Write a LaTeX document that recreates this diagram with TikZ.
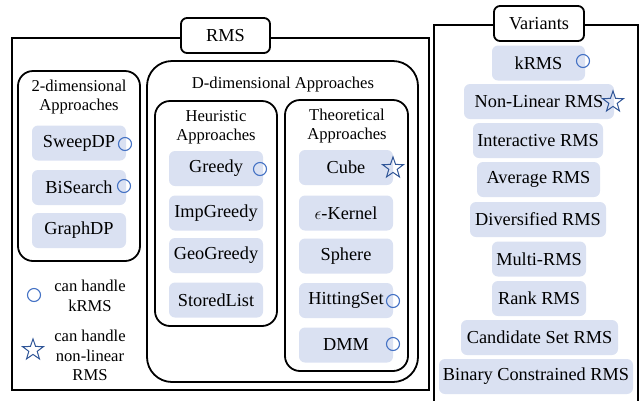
\documentclass[tikz,border=0pt]{standalone}
\usepackage{fontspec}
\setmainfont{Liberation Serif}
\usetikzlibrary{shapes.geometric}
\definecolor{itemfill}{HTML}{DAE1F2}
\definecolor{circblue}{HTML}{4472C4}
\definecolor{starblue}{HTML}{2F5597}
\tikzset{
  item/.style={fill=itemfill, rounded corners=6pt, minimum height=35pt, inner sep=0pt, font=\fontsize{18.3}{20}\selectfont},
  outerbox/.style={draw=black, line width=1.8pt, inner sep=0pt},
  groupbox/.style={draw=black, line width=1.8pt, inner sep=0pt, rounded corners=15pt},
  labelbox/.style={draw=black, fill=white, line width=1.8pt, rounded corners=6pt, inner sep=0pt, minimum height=35pt, font=\fontsize{18.3}{20}\selectfont},
  title/.style={align=center, inner sep=0pt, font=\fontsize{16.6}{19.5}\selectfont},
  kmark/.style={circle, draw=circblue, line width=1.1pt, minimum size=13pt, inner sep=0pt},
  nlmark/.style={star, star points=5, star point ratio=2.5, draw=starblue, line width=1pt, minimum size=22pt, inner sep=0pt},
}
\begin{document}
\begin{tikzpicture}[x=1pt, y=-1pt]
\useasboundingbox (0,0) rectangle (643,400);
% containers
\node[outerbox, minimum width=417pt, minimum height=352pt] (rmsbox) at (220.5,214) {};
\node[outerbox, minimum width=204pt, minimum height=377pt] (varbox) at (536,213.5) {};
\node[labelbox, minimum width=89pt] (rmslabel) at (225.5,35.5) {RMS};
\node[labelbox, minimum width=90pt] (varlabel) at (539,23.5) {Variants};
\node[groupbox, minimum width=122pt, minimum height=190pt] (twod) at (79,166) {};
\node[groupbox, rounded corners=25pt, minimum width=271pt, minimum height=321pt] (dd) at (282.5,221.5) {};
\node[groupbox, minimum width=122pt, minimum height=225pt] (heur) at (216,213.5) {};
\node[groupbox, minimum width=123pt, minimum height=271pt] (theo) at (346.5,235.5) {};
% titles
\node[title] (twodt) at (79,97) {2-dimensional\\Approaches};
\node[title] (ddt) at (283,85) {D-dimensional Approaches};
\node[title] (heurt) at (216,127.5) {Heuristic\\Approaches};
\node[title] (theot) at (347,126) {Theoretical\\Approaches};
% 2-dim items
\node[item, minimum width=94pt] (sweep) at (79,143) {SweepDP};
\node[item, minimum width=94pt] (bis) at (79,187.5) {BiSearch};
\node[item, minimum width=94pt] (graph) at (79,230.5) {GraphDP};
% heuristic items
\node[item, minimum width=94pt] (greedy) at (216,168.5) {Greedy};
\node[item, minimum width=94pt] (impg) at (216,213) {ImpGreedy};
\node[item, minimum width=94pt] (geog) at (216,255.5) {GeoGreedy};
\node[item, minimum width=94pt] (stored) at (216,300) {StoredList};
% theoretical items
\node[item, minimum width=94pt] (cube) at (346,167.5) {Cube};
\node[item, minimum width=94pt] (kern) at (346,213) {\(\epsilon\)-Kernel};
\node[item, minimum width=94pt] (sphere) at (346,256) {Sphere};
\node[item, minimum width=94pt] (hit) at (346,300.5) {HittingSet};
\node[item, minimum width=94pt] (dmm) at (346,345) {DMM};
% variants
\node[item, minimum width=93pt] (krms) at (538.5,63) {kRMS};
\node[item, minimum width=150pt] (nlrms) at (539,101.5) {Non-Linear RMS};
\node[item, minimum width=130pt] (irms) at (538,140.5) {Interactive RMS};
\node[item, minimum width=123pt] (arms) at (538.5,179.5) {Average RMS};
\node[item, minimum width=136pt] (drms) at (538,219.5) {Diversified RMS};
\node[item, minimum width=94pt] (mrms) at (539,259) {Multi-RMS};
\node[item, minimum width=94pt] (rrms) at (539,298.5) {Rank RMS};
\node[item, minimum width=157pt] (crms) at (539.5,337.5) {Candidate Set RMS};
\node[item, minimum width=194pt] (brms) at (536,376.5) {Binary Constrained RMS};
% marks
\node[kmark] (m1) at (125,144) {};
\node[kmark] (m2) at (124,186) {};
\node[kmark] (m3) at (260,169) {};
\node[nlmark] (m4) at (393,168) {};
\node[kmark] (m5) at (393,301) {};
\node[kmark] (m6) at (393,344) {};
\node[kmark] (m7) at (583,61) {};
\node[nlmark] (m8) at (613,102) {};
% legend
\node[kmark] (lg1) at (34,295) {};
\node[title] (lg1t) at (90,296) {can handle\\kRMS};
\node[nlmark] (lg2) at (33,350) {};
\node[title] (lg2t) at (90,355.5) {can handle\\non-linear\\RMS};
\end{tikzpicture}
\end{document}
